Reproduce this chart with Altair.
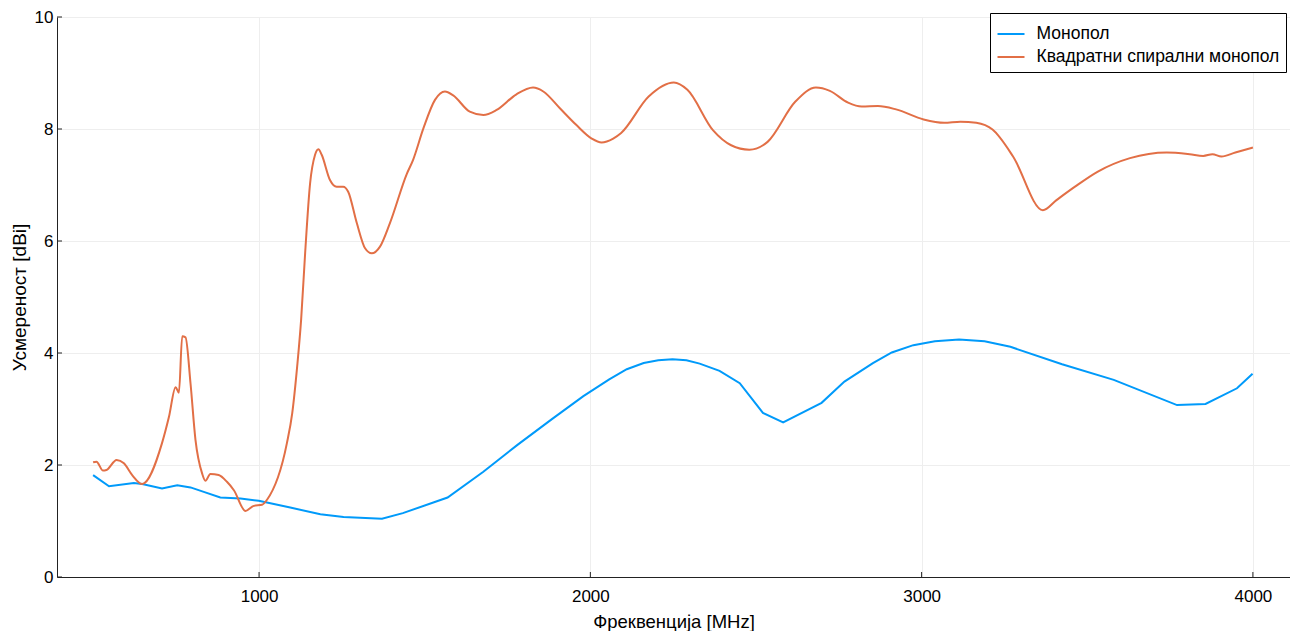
import altair as alt
import pandas as pd

# Монопол
mono_f = [499, 547, 622, 647, 707, 753, 793, 833, 883, 944, 999, 1094, 1185, 1255, 1371,
          1434, 1569, 1677, 1780, 1884, 1979, 2057, 2110, 2161, 2205, 2248, 2290, 2330, 2390,
          2451, 2521, 2582, 2698, 2767, 2853, 2910, 2975, 3040, 3113, 3190, 3268, 3424,
          3580, 3771, 3857, 3952, 3999]
mono_g = [1.82, 1.62, 1.68, 1.66, 1.58, 1.64, 1.60, 1.52, 1.42, 1.40, 1.36, 1.24, 1.12, 1.07, 1.04,
          1.14, 1.42, 1.88, 2.36, 2.82, 3.23, 3.53, 3.71, 3.82, 3.87, 3.89, 3.87, 3.81, 3.68,
          3.46, 2.93, 2.76, 3.11, 3.49, 3.82, 4.01, 4.14, 4.21, 4.24, 4.21, 4.11, 3.80,
          3.52, 3.07, 3.09, 3.37, 3.63]

# Квадратни спирални монопол
spir_f = [499, 509, 529, 539, 570, 592, 617, 647, 707, 728, 748, 758, 768, 778, 793, 808,
          828, 838, 853, 878, 903, 924, 959, 984, 1009, 1024, 1084, 1100, 1115, 1127,
          1139, 1154, 1169, 1179, 1189, 1214, 1234, 1254, 1269, 1295, 1320, 1340, 1365,
          1395, 1446, 1465, 1496, 1531, 1561, 1586, 1636, 1677, 1717, 1777, 1827, 1858,
          1908, 1958, 2004, 2034, 2069, 2093, 2176, 2252, 2293, 2370, 2425, 2480, 2535,
          2619, 2681, 2723, 2778, 2819, 2868, 2923, 3006, 3068, 3117, 3165, 3214, 3276,
          3366, 3407, 3463, 3532, 3629, 3740, 3809, 3850, 3878, 3905, 3947, 4000]
spir_g = [2.05, 2.06, 1.90, 1.91, 2.09, 2.03, 1.82, 1.66, 2.39, 2.86, 3.39, 3.29, 4.30, 4.28, 3.46, 2.45,
          1.85, 1.72, 1.84, 1.82, 1.70, 1.55, 1.18, 1.27, 1.29, 1.38, 2.39, 2.92, 3.76, 4.60,
          5.78, 7.03, 7.54, 7.64, 7.54, 7.09, 6.97, 6.97, 6.88, 6.32, 5.87, 5.78, 5.90,
          6.32, 7.20, 7.45, 8.01, 8.52, 8.67, 8.60, 8.31, 8.25, 8.34, 8.62, 8.74, 8.67,
          8.37, 8.07, 7.83, 7.76, 7.83, 7.93, 8.58, 8.83, 8.70, 7.98, 7.71, 7.63, 7.77,
          8.49, 8.74, 8.68, 8.47, 8.40, 8.41, 8.35, 8.17, 8.11, 8.13, 8.11, 7.99, 7.51,
          6.55, 6.73, 6.97, 7.24, 7.48, 7.58, 7.55, 7.52, 7.55, 7.51, 7.58, 7.67]

series_names = ["Монопол", "Квадратни спирални монопол"]
series_colors = ["#009AFA", "#E26F46"]
x_ticks = [1000, 2000, 3000, 4000]
y_ticks = [0, 2, 4, 6, 8, 10]

mono_df = pd.DataFrame({"f": mono_f, "g": mono_g, "s": series_names[0]})
spir_df = pd.DataFrame({"f": spir_f, "g": spir_g, "s": series_names[1]})

FONT = "Liberation Sans"
W, H = 1233, 560

xscale = alt.Scale(domain=[390, 4112], nice=False, zero=False)
yscale = alt.Scale(domain=[0, 10], nice=False)
cscale = alt.Scale(domain=series_names, range=series_colors)

x_enc = alt.X("f:Q", scale=xscale, title="Фреквенција [MHz]",
              axis=alt.Axis(values=x_ticks, format="d", grid=True, ticks=False,
                            labelPadding=11, titlePadding=8, domainColor="#222222"))
y_enc = alt.Y("g:Q", scale=yscale, title="Усмереност [dBi]",
              axis=alt.Axis(values=y_ticks, grid=True, ticks=False,
                            labelPadding=4, titlePadding=5, domainColor="#222222"))
legend = alt.Legend(title=None, orient="none", legendX=933, legendY=-4,
                    symbolType="stroke", symbolSize=729, symbolStrokeWidth=2,
                    labelOffset=11, padding=6.5, rowPadding=0, labelLimit=0,
                    strokeColor="black", fillColor="white",
                    labelFontSize=17.5, labelFont=FONT, labelColor="black")

mono = alt.Chart(mono_df).mark_line(strokeWidth=2).encode(
    x=x_enc, y=y_enc, color=alt.Color("s:N", scale=cscale, legend=legend))
spir = alt.Chart(spir_df).mark_line(strokeWidth=2, interpolate="monotone").encode(
    x=x_enc, y=y_enc, color=alt.Color("s:N", scale=cscale, legend=legend))

xt = alt.Chart(pd.DataFrame({"t": x_ticks})).mark_rule(color="#222222").encode(
    x=alt.X("t:Q", scale=xscale), y=alt.value(H), y2=alt.value(H - 5))
yt = alt.Chart(pd.DataFrame({"t": y_ticks})).mark_rule(color="#222222").encode(
    y=alt.Y("t:Q", scale=yscale), x=alt.value(0), x2=alt.value(5))

chart = alt.layer(mono, spir, xt, yt).properties(
    width=W, height=H,
    autosize=alt.AutoSizeParams(type="none"),
    padding={"left": 49, "top": 9, "right": 0, "bottom": 54},
).configure_view(stroke=None).configure_axis(
    labelFont=FONT, titleFont=FONT, labelFontSize=17, titleFontSize=18.5,
    labelColor="black", titleColor="black", titleFontWeight="normal",
    gridColor="#eeeeee", gridWidth=1,
).configure_axisY(titleFontSize=19)

chart.save("out.html", embed_options={"renderer": "svg", "actions": False})
